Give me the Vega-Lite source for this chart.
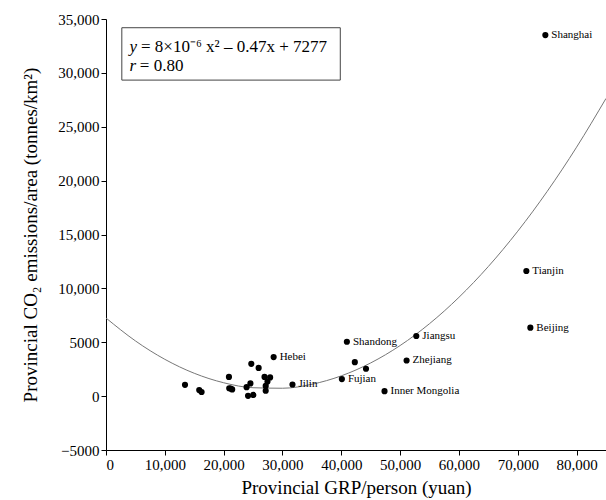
{
  "$schema": "https://vega.github.io/schema/vega-lite/v6.json",
  "width": 500,
  "height": 431,
  "autosize": {"type": "none"},
  "padding": {"left": 106, "top": 19, "right": 0, "bottom": 50},
  "background": "white",
  "config": {
    "font": "Liberation Serif",
    "view": {"stroke": null},
    "axis": {
      "grid": false,
      "domainColor": "black",
      "tickColor": "black",
      "labelColor": "black",
      "titleColor": "black",
      "labelFont": "Liberation Serif",
      "titleFont": "Liberation Serif",
      "labelFontSize": 15,
      "titleFontSize": 19,
      "titleFontWeight": "normal",
      "tickSize": 5,
      "labelPadding": 2
    }
  },
  "datasets": {
    "provinces": [
      {"gdp": 13430, "co2": 1050},
      {"gdp": 15850, "co2": 560},
      {"gdp": 16250, "co2": 380},
      {"gdp": 20900, "co2": 1780},
      {"gdp": 20950, "co2": 730},
      {"gdp": 21450, "co2": 620},
      {"gdp": 23900, "co2": 830},
      {"gdp": 24550, "co2": 1180},
      {"gdp": 24150, "co2": 30},
      {"gdp": 25050, "co2": 110},
      {"gdp": 24700, "co2": 3000},
      {"gdp": 25950, "co2": 2620},
      {"gdp": 26950, "co2": 1780},
      {"gdp": 27900, "co2": 1740},
      {"gdp": 27150, "co2": 950},
      {"gdp": 27150, "co2": 500},
      {"gdp": 27450, "co2": 1350},
      {"gdp": 21200, "co2": 700},
      {"gdp": 28500, "co2": 3620, "name": "Hebei"},
      {"gdp": 31700, "co2": 1080, "name": "Jilin"},
      {"gdp": 40100, "co2": 1580, "name": "Fujian"},
      {"gdp": 40950, "co2": 5050, "name": "Shandong"},
      {"gdp": 42300, "co2": 3150},
      {"gdp": 44200, "co2": 2540},
      {"gdp": 47350, "co2": 460, "name": "Inner Mongolia"},
      {"gdp": 51100, "co2": 3310, "name": "Zhejiang"},
      {"gdp": 52750, "co2": 5580, "name": "Jiangsu"},
      {"gdp": 72140, "co2": 6350, "name": "Beijing"},
      {"gdp": 71460, "co2": 11610, "name": "Tianjin"},
      {"gdp": 74690, "co2": 33510, "name": "Shanghai"}
    ],
    "curve": [
      {"gdp": 0, "co2": 7250},
      {"gdp": 5000, "co2": 5125},
      {"gdp": 10000, "co2": 3415},
      {"gdp": 15000, "co2": 2121},
      {"gdp": 20000, "co2": 1242},
      {"gdp": 25000, "co2": 779},
      {"gdp": 30000, "co2": 731},
      {"gdp": 35000, "co2": 1099},
      {"gdp": 40000, "co2": 1882},
      {"gdp": 45000, "co2": 3081},
      {"gdp": 50000, "co2": 4695},
      {"gdp": 55000, "co2": 6725},
      {"gdp": 60000, "co2": 9170},
      {"gdp": 65000, "co2": 12031},
      {"gdp": 70000, "co2": 15307},
      {"gdp": 75000, "co2": 18999},
      {"gdp": 80000, "co2": 23106},
      {"gdp": 85000, "co2": 27629}
    ],
    "box": [
      {"gdp": 2690, "co2": 34190, "gdp2": 39830, "co22": 29330}
    ],
    "eqItalic": [
      {"gdp": 3997, "co2": 31930, "text": "y"},
      {"gdp": 3997, "co2": 30170, "text": "r"}
    ],
    "eqPlain": [
      {"gdp": 5952, "co2": 31930, "text": "= 8×10⁻⁶ x² – 0.47x + 7277"},
      {"gdp": 5750, "co2": 30170, "text": "= 0.80"}
    ]
  },
  "encoding": {
    "x": {
      "field": "gdp",
      "type": "quantitative",
      "title": "Provincial GRP/person (yuan)",
      "scale": {"domain": [0, 85000], "nice": false, "zero": false},
      "axis": {
        "values": [0, 10000, 20000, 30000, 40000, 50000, 60000, 70000, 80000],
        "labelExpr": "format(datum.value, ',')",
        "titlePadding": 6
      }
    },
    "y": {
      "field": "co2",
      "type": "quantitative",
      "title": "Provincial CO₂ emissions/area (tonnes/km²)",
      "scale": {"domain": [-5000, 35000], "nice": false, "zero": false},
      "axis": {
        "values": [-5000, 0, 5000, 10000, 15000, 20000, 25000, 30000, 35000],
        "labelExpr": "datum.value == 5000 ? '5000' : datum.value == -5000 ? '−5000' : format(datum.value, ',')",
        "titlePadding": 17
      }
    }
  },
  "layer": [
    {
      "data": {"name": "box"},
      "mark": {"type": "rect", "fill": "white", "stroke": "#444", "strokeWidth": 1},
      "encoding": {
        "x2": {"field": "gdp2"},
        "y2": {"field": "co22"}
      }
    },
    {
      "data": {"name": "curve"},
      "mark": {"type": "line", "color": "#777", "strokeWidth": 1, "interpolate": "monotone"},
      "encoding": {}
    },
    {
      "data": {"name": "provinces"},
      "mark": {"type": "circle", "color": "black", "opacity": 1, "size": 38}
    },
    {
      "data": {"name": "provinces"},
      "transform": [{"filter": "datum.name"}],
      "mark": {"type": "text", "align": "left", "baseline": "middle", "dx": 6, "fontSize": 11, "color": "black", "font": "Liberation Serif"},
      "encoding": {"text": {"field": "name"}}
    },
    {
      "data": {"name": "eqItalic"},
      "mark": {"type": "text", "align": "left", "baseline": "alphabetic", "fontSize": 17, "fontStyle": "italic", "color": "black", "font": "Liberation Serif"},
      "encoding": {"text": {"field": "text"}}
    },
    {
      "data": {"name": "eqPlain"},
      "mark": {"type": "text", "align": "left", "baseline": "alphabetic", "fontSize": 17, "color": "black", "font": "Liberation Serif"},
      "encoding": {"text": {"field": "text"}}
    }
  ]
}
